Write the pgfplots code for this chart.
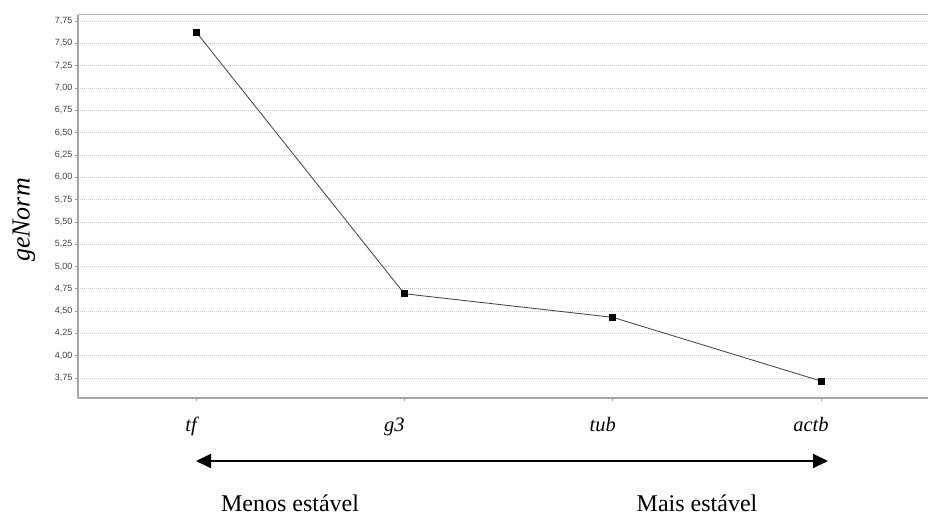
\documentclass[border=0pt]{standalone}
\usepackage{fontspec}
\setmainfont{Liberation Serif}
\setsansfont{Liberation Sans}
\usepackage{pgfplots}
\pgfplotsset{compat=1.18}
\usetikzlibrary{arrows.meta}
\begin{document}
\begin{tikzpicture}[x=1pt,y=1pt]
\useasboundingbox (0,0) rectangle (928,517);
\begin{axis}[
  at={(78pt,119pt)}, anchor=south west,
  scale only axis, width=850pt, height=383pt,
  xmin=-0.567, xmax=3.514,
  ymin=3.526, ymax=7.817,
  axis lines*=left,
  axis line style={draw=black!35, line width=1.2pt},
  xtick={0,1,2,3},
  xticklabels={{\kern10pt tf},g3,tub,actb},
  ytick={3.75,4,4.25,4.5,4.75,5,5.25,5.5,5.75,6,6.25,6.5,6.75,7,7.25,7.5,7.75},
  yticklabel style={font=\sffamily\fontsize{9}{10}\selectfont, text=black!75, xshift=1pt, /pgf/number format/.cd, fixed, fixed zerofill, precision=2, use comma, assume math mode=true},
  xticklabel style={font=\itshape\fontsize{20.5}{22}\selectfont, yshift=-13pt, xshift=-10pt},
  tick align=outside,
  major tick length=3pt,
  tick style={draw=black!40, line width=0.6pt},
  ymajorgrids,
  grid style={draw=black!22, dash pattern=on 1pt off 1pt, line width=0.6pt},
  clip=false,
]
\draw[draw=black!30, line width=1pt] (rel axis cs:0,1) -- (rel axis cs:1,1);
\addplot[color=black!72, line width=0.85pt, mark=square*, mark size=3pt, mark options={fill=black, draw=black}]
  coordinates {(0,7.627) (1,4.694) (2,4.43) (3,3.716)};
\end{axis}
\node[rotate=90, font=\itshape\fontsize{26}{28}\selectfont] at (24,297) {geNorm};
\draw[line width=2pt, {Triangle[length=15pt,width=14pt]}-{Triangle[length=15pt,width=14pt]}] (196,56) -- (828,56);
\node[anchor=base, inner sep=0pt, font=\fontsize{24}{26}\selectfont] at (290,6) {Menos estável};
\node[anchor=base, inner sep=0pt, font=\fontsize{24}{26}\selectfont] at (697,6) {Mais estável};
\end{tikzpicture}
\end{document}
